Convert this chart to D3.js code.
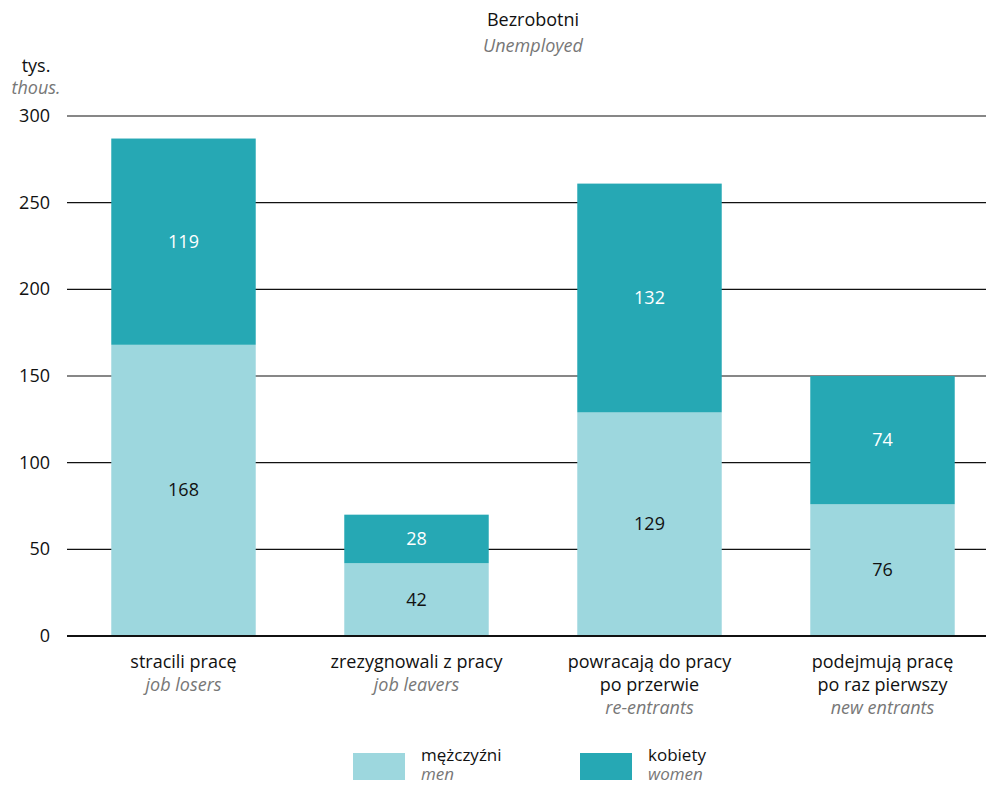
<!DOCTYPE html>
<html><head><meta charset="utf-8">
<script src="https://cdn.jsdelivr.net/npm/d3@7"></script>
<style>body{margin:0;background:#fff}svg{display:block}text{font-family:"Open Sans",sans-serif}</style>
</head><body><svg id="c" width="986" height="785"></svg>
<script>
const categoriesPL = [["stracili pracę"],["zrezygnowali z pracy"],["powracają do pracy","po przerwie"],["podejmują pracę","po raz pierwszy"]];
const categoriesEN = ["job losers","job leavers","re-entrants","new entrants"];
const men = [168, 42, 129, 76];
const women = [119, 28, 132, 74];
const yTicks = [0, 50, 100, 150, 200, 250, 300];
const seriesNames = [["mężczyźni","men"],["kobiety","women"]];
const colors = ["#9dd7de","#26a8b4"];
const FS = 18;

const svg = d3.select("#c");
const x = d3.scaleBand().domain(d3.range(4)).range([67, 999]).paddingInner(0.38).paddingOuter(0.19);
const y = d3.scaleLinear().domain([0, 300]).range([636, 116]);

// title
svg.append("text").attr("x",533).attr("y",26).attr("text-anchor","middle").attr("font-size",FS).attr("fill","#111").text("Bezrobotni");
svg.append("text").attr("x",533).attr("y",52).attr("text-anchor","middle").attr("font-size",FS).attr("font-style","italic").attr("fill","#777").text("Unemployed");
// y label
svg.append("text").attr("x",36).attr("y",72).attr("text-anchor","middle").attr("font-size",FS).attr("fill","#111").text("tys.");
svg.append("text").attr("x",36).attr("y",94).attr("text-anchor","middle").attr("font-size",FS).attr("font-style","italic").attr("fill","#777").text("thous.");

// grid
const g = svg.append("g");
g.selectAll("line").data(yTicks).join("line")
  .attr("x1",67).attr("x2",986).attr("y1",d=>y(d)).attr("y2",d=>y(d))
  .attr("stroke","#111").attr("stroke-width",d=>d===0?2:1.2);
svg.append("g").selectAll("text").data(yTicks).join("text")
  .attr("x",50).attr("y",d=>y(d)+6).attr("text-anchor","end").attr("font-size",FS).attr("fill","#111").text(d=>d);

// bars
const data = d3.range(4).map(i=>({i, m:men[i], w:women[i]}));
const bars = svg.append("g");
bars.selectAll("rect.m").data(data).join("rect").attr("class","m")
  .attr("x",d=>x(d.i)).attr("width",x.bandwidth()).attr("y",d=>y(d.m)).attr("height",d=>y(0)-y(d.m)).attr("fill",colors[0]);
bars.selectAll("rect.w").data(data).join("rect").attr("class","w")
  .attr("x",d=>x(d.i)).attr("width",x.bandwidth()).attr("y",d=>y(d.m+d.w)).attr("height",d=>y(d.m)-y(d.m+d.w)).attr("fill",colors[1]);
svg.append("line").attr("x1",67).attr("x2",986).attr("y1",y(0)).attr("y2",y(0)).attr("stroke","#111").attr("stroke-width",2);

// value labels
bars.selectAll("text.m").data(data).join("text").attr("class","m")
  .attr("x",d=>x(d.i)+x.bandwidth()/2).attr("y",d=>(y(0)+y(d.m))/2+6).attr("text-anchor","middle").attr("font-size",FS).attr("fill","#111").text(d=>d.m);
bars.selectAll("text.w").data(data).join("text").attr("class","w")
  .attr("x",d=>x(d.i)+x.bandwidth()/2).attr("y",d=>(y(d.m)+y(d.m+d.w))/2+6).attr("text-anchor","middle").attr("font-size",FS).attr("fill","#fff").text(d=>d.w);

// category labels
const cl = svg.append("g");
data.forEach(d=>{
  const cx = x(d.i)+x.bandwidth()/2;
  const lines = categoriesPL[d.i];
  lines.forEach((t,k)=>{
    cl.append("text").attr("x",cx).attr("y",668+k*23).attr("text-anchor","middle").attr("font-size",FS).attr("fill","#111").text(t);
  });
  cl.append("text").attr("x",cx).attr("y",668+lines.length*23).attr("text-anchor","middle").attr("font-size",FS).attr("font-style","italic").attr("fill","#777").text(categoriesEN[d.i]);
});

// legend
const lx = [353, 580];
seriesNames.forEach((s,k)=>{
  svg.append("rect").attr("x",lx[k]).attr("y",753).attr("width",52).attr("height",27).attr("fill",colors[k]);
  svg.append("text").attr("x",lx[k]+68).attr("y",761).attr("font-size",17).attr("fill","#111").text(s[0]);
  svg.append("text").attr("x",lx[k]+68).attr("y",780).attr("font-size",17).attr("font-style","italic").attr("fill","#777").text(s[1]);
});
</script></body></html>
